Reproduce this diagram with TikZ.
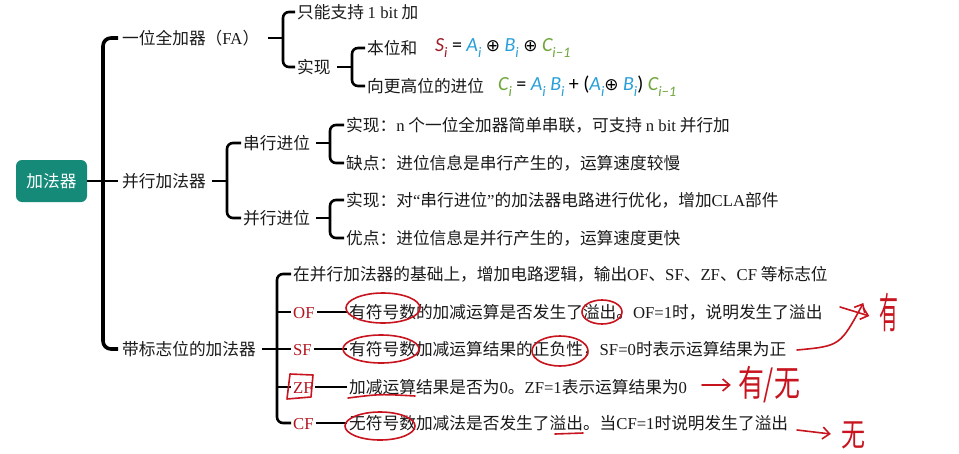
\documentclass[tikz,border=0pt]{standalone}
\usepackage{fontspec}
\setmainfont{Noto Sans CJK SC}
\newfontfamily\lat{Liberation Serif}
\newfontfamily\mth{Carlito}
\newfontfamily\sym{DejaVu Sans}
\usetikzlibrary{arrows.meta}
\definecolor{txt}{HTML}{1A1A1A}
\definecolor{rootcol}{HTML}{158A78}
\definecolor{sred}{HTML}{9E1B28}
\definecolor{mblue}{HTML}{2A9FD8}
\definecolor{mgreen}{HTML}{6FA63C}
\definecolor{flagred}{HTML}{B3141E}
\definecolor{pen}{HTML}{C8141E}
\newcommand\ms[1]{{\mth\itshape #1}}
\newcommand\sbs[1]{\raisebox{-0.28em}{\fontsize{14.5}{14}\selectfont\mth\itshape #1}}
\tikzset{
  t/.style={anchor=west, inner sep=0pt, text=txt, text height=14pt, text depth=1.5pt,
            font=\fontsize{16.7}{20}\selectfont},
  fml/.style={anchor=west, inner sep=0pt, font=\fontsize{20}{24}\selectfont},
  rootbox/.style={fill=rootcol, rounded corners=6pt, minimum width=71pt, minimum height=42pt,
            inner sep=0pt, text=white, font=\fontsize{16.7}{20}\selectfont},
  conn/.style={draw=black, line width=2.6pt},
  brk/.style={draw=black, line width=2.6pt, rounded corners=6pt},
  trunk/.style={draw=black, line width=3.6pt, rounded corners=8pt},
  pen/.style={draw=pen, line width=1.6pt, line cap=round, line join=round},
  penarrow/.style={pen, -{Straight Barb[length=7pt,width=12pt,line width=1.6pt]}},
  hand/.style={inner sep=0pt, text=pen}
}
\begin{document}
\begin{tikzpicture}[x=1pt,y=-1pt]
\useasboundingbox (0,0) rectangle (959,453);
\fill[white] (0,0) rectangle (959,453);

% root and level 1
\node[rootbox] (root) at (51.5,181) {加法器};
\node[t] (fa) at (122,38) {一位全加器（{\lat FA}）};
\node[t] (par) at (122,181) {并行加法器};
\node[t] (flag) at (122,349) {带标志位的加法器};
\draw[trunk] ([xshift=-4pt]fa.west) -- ++(-15,0) |- ([xshift=-4pt]flag.west);
\draw[conn] (root.east) -- ([xshift=-4pt]par.west);

% full adder
\node[t] (fa1) at (297,12) {只能支持 {\lat 1 bit} 加};
\node[t] (impl) at (297,67) {实现};
\coordinate (bfa) at ([xshift=-14pt]fa1.west);
\draw[brk] ([xshift=-2pt]fa1.west) -- (bfa) |- ([xshift=-2pt]impl.west);
\draw[conn] ([xshift=9pt]fa.east) -- (fa.east -| bfa);

\node[t] (sum) at (367,48) {本位和};
\node[t] (carry) at (367,86) {向更高位的进位};
\coordinate (bimpl) at ([xshift=-15pt]sum.west);
\draw[brk] ([xshift=-2pt]sum.west) -- (bimpl) |- ([xshift=-2pt]carry.west);
\draw[conn] ([xshift=6pt]impl.east) -- (impl.east -| bimpl);

\node[fml] (sumf) at (435,48) {{\color{sred}\ms{S}\sbs{i}} {\mth =} {\color{mblue}\ms{A}\sbs{i}} {\sym\fontsize{17}{20}\selectfont ⊕} {\color{mblue}\ms{B}\sbs{i}} {\sym\fontsize{17}{20}\selectfont ⊕} {\color{mgreen}\ms{C}\sbs{i−1}}};
\node[fml] (carf) at (498,86) {{\color{mgreen}\ms{C}\sbs{i}} {\mth =} {\color{mblue}\ms{A}\sbs{i} \ms{B}\sbs{i}} {\mth +} {\mth (}{\color{mblue}\ms{A}\sbs{i}}{\sym\fontsize{17}{20}\selectfont ⊕} {\color{mblue}\ms{B}\sbs{i}}{\mth )} {\color{mgreen}\ms{C}\sbs{i−1}}};

% parallel adder
\node[t] (ser) at (243,143) {串行进位};
\node[t] (pcl) at (243,218) {并行进位};
\coordinate (bpar) at ([xshift=-16pt]ser.west);
\draw[brk] ([xshift=-2pt]ser.west) -- (bpar) |- ([xshift=-2pt]pcl.west);
\draw[conn] ([xshift=6pt]par.east) -- (par.east -| bpar);

\node[t] (ser1) at (346,125) {实现：{\lat n} 个一位全加器简单串联，可支持 {\lat n bit} 并行加};
\node[t] (ser2) at (346,163) {缺点：进位信息是串行产生的，运算速度较慢};
\coordinate (bser) at ([xshift=-16pt]ser1.west);
\draw[brk] ([xshift=-2pt]ser1.west) -- (bser) |- ([xshift=-2pt]ser2.west);
\draw[conn] ([xshift=6pt]ser.east) -- (ser.east -| bser);

\node[t] (pcl1) at (346,200) {实现：对{\lat “}串行进位{\lat ”}的加法器电路进行优化，增加{\lat CLA}部件};
\node[t] (pcl2) at (346,238) {优点：进位信息是并行产生的，运算速度更快};
\coordinate (bpcl) at ([xshift=-16pt]pcl1.west);
\draw[brk] ([xshift=-2pt]pcl1.west) -- (bpcl) |- ([xshift=-2pt]pcl2.west);
\draw[conn] ([xshift=6pt]pcl.east) -- (pcl.east -| bpcl);

% flag adder
\node[t] (fbase) at (293,274) {在并行加法器的基础上，增加电路逻辑，输出{\lat OF}、{\lat SF}、{\lat ZF}、{\lat CF} 等标志位};
\node[t, text=flagred] (of) at (293,312) {\lat OF};
\node[t, text=flagred] (sf) at (293,349) {\lat SF};
\node[t, text=flagred] (zf) at (293,387) {\lat ZF};
\node[t, text=flagred] (cf) at (293,423) {\lat CF};
\coordinate (bflag) at ([xshift=-16pt]fbase.west);
\draw[brk] ([xshift=-2pt]fbase.west) -- (bflag) |- ([xshift=-2pt]cf.west);
\draw[conn] (bflag |- of.west) -- ([xshift=-2pt]of.west);
\draw[conn] (bflag |- sf.west) -- ([xshift=-2pt]sf.west);
\draw[conn] (bflag |- zf.west) -- ([xshift=-2pt]zf.west);
\draw[conn] ([xshift=6pt]flag.east) -- (flag.east -| bflag);

\node[t] (ofd) at (349,312) {有符号数的加减运算是否发生了溢出。{\lat OF=1}时，说明发生了溢出};
\node[t] (sfd) at (349,349) {有符号数加减运算结果的正负性，{\lat SF=0}时表示运算结果为正};
\node[t] (zfd) at (349,387) {加减运算结果是否为{\lat 0}。{\lat ZF=1}表示运算结果为{\lat 0}};
\node[t] (cfd) at (349,423) {无符号数加减法是否发生了溢出。当{\lat CF=1}时说明发生了溢出};
\draw[conn] ([xshift=2pt]of.east) -- ([xshift=-2pt]ofd.west);
\draw[conn] ([xshift=2pt]sf.east) -- ([xshift=-2pt]sfd.west);
\draw[conn] ([xshift=2pt]zf.east) -- ([xshift=-2pt]zfd.west);
\draw[conn] ([xshift=2pt]cf.east) -- ([xshift=-2pt]cfd.west);

% handwritten annotations
\draw[pen] (383,308) ellipse [x radius=37, y radius=15];
\draw[pen] (602,312) ellipse [x radius=20, y radius=12];
\draw[pen] (381,349) ellipse [x radius=38, y radius=14];
\draw[pen] (560,351) ellipse [x radius=28, y radius=15];
\draw[pen] (290,374) -- (287,399) -- (311,397) -- (313,375) -- cycle;
\draw[pen] (348,398) .. controls (380,394) .. (415,396);
\draw[pen] (380,426) ellipse [x radius=35, y radius=14];
\draw[pen] (555,434) -- (583,433);

\node[hand] (h1) at (889,313) {\fontsize{42}{42}\selectfont\scalebox{0.45}[1]{有}};
\node[hand] (h2) at (769,385) {\fontsize{36}{36}\selectfont\scalebox{0.72}[1]{有/无}};
\node[hand] (h3) at (853,435) {\fontsize{32}{32}\selectfont\scalebox{0.75}[1]{无}};
\coordinate (a1s) at (840,307);
\coordinate (a2s) at (797,350);
\coordinate (a3s) at (702,385);
\coordinate (a4s) at (797,430);
\draw[penarrow] (a1s) -- ([xshift=-10pt,yshift=-3pt]h1.west);
\draw[penarrow] (a2s) .. controls (840,346) .. ([xshift=-16pt,yshift=10pt]h1.west);
\draw[penarrow] (a3s) -- ([xshift=-7pt]h2.west);
\draw[penarrow] (a4s) -- ([xshift=-10pt,yshift=1pt]h3.west);
\end{tikzpicture}
\end{document}
